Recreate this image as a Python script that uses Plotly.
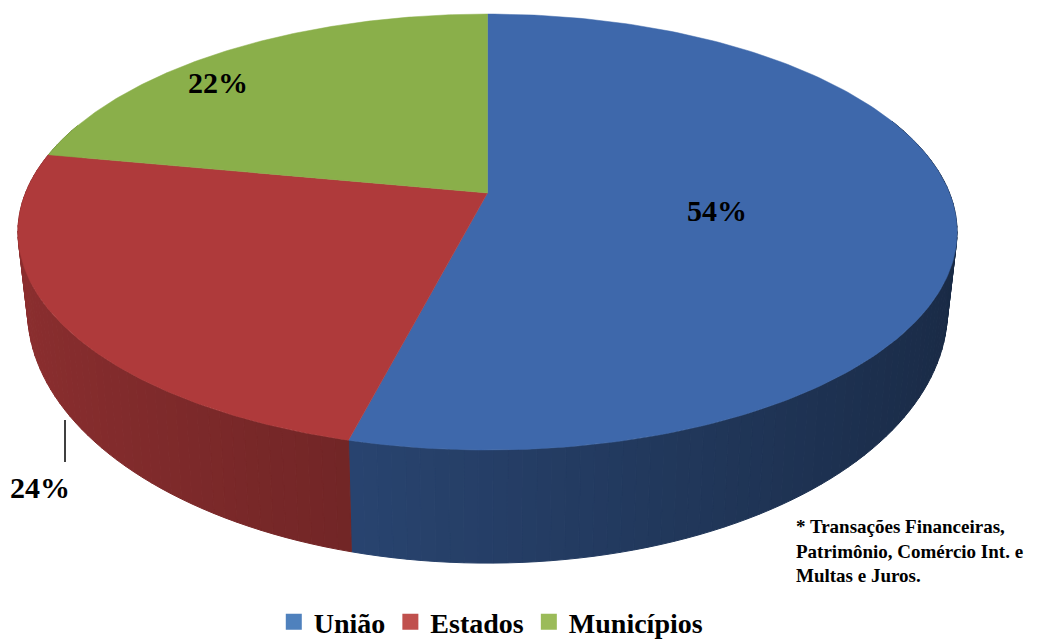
import numpy as np
import plotly.graph_objects as go

# ---- data ----
categories = ["União", "Estados", "Municípios"]
values = [54, 24, 22]
footnote_lines = ["* Transações Financeiras,", "Patrimônio, Comércio Int. e", "Multas e Juros."]

# ---- style ----
top_colors = [(62, 104, 171), (175, 58, 59), (138, 175, 74)]
legend_colors = ["#4f81bd", "#c0504d", "#9bbb59"]
label_pos = [(717, 210), (40, 487), (218, 82)]
FONT = "Liberation Serif"

W, H = 1045, 639
OFF = 8  # page body margin
# projection parameters (screen pixel space)
CX, CY, A, B, E = 487.5, 193.0, 462.0, 211.0, 0.179
CYB, AB, BB = 264.7, 452.6, 245.0


def proj(t, top=True, r=1.0):
    X = r * np.sin(t)
    Z = -r * np.cos(t)
    d = 1 - E * Z
    if top:
        return CX + A * X / d, CY + B * Z / d
    return CX + AB * X / d, CYB + BB * Z / d


def rgb(c, k=1.0):
    return "rgb(%d,%d,%d)" % tuple(int(round(v * k)) for v in c)


total = float(sum(values))
bounds = np.concatenate([[0], np.cumsum(values)]) / total * 2 * np.pi

fig = go.Figure()

# side walls (drawn first, back parts get covered by the top face)
step = np.radians(1.5)
for i, v in enumerate(values):
    a0, a1 = bounds[i], bounds[i + 1]
    n = max(2, int(np.ceil((a1 - a0) / step)))
    ts = np.linspace(a0, a1, n + 1)
    for j in range(n):
        t0, t1 = ts[j], ts[j + 1]
        if -np.cos((t0 + t1) / 2) < -0.35:
            continue
        xt0, yt0 = proj(t0)
        xt1, yt1 = proj(t1)
        xb0, yb0 = proj(t0, False)
        xb1, yb1 = proj(t1, False)
        Xm = np.sin((t0 + t1) / 2)
        k = 0.6 - 0.2 * Xm
        col = rgb(top_colors[i], k)
        fig.add_trace(go.Scatter(
            x=[xt0, xt1, xb1, xb0, xt0], y=[yt0, yt1, yb1, yb0, yt0],
            mode="lines", fill="toself", fillcolor=col,
            line=dict(color=col, width=1), hoverinfo="skip", showlegend=False))

# top faces
for i, v in enumerate(values):
    a0, a1 = bounds[i], bounds[i + 1]
    ts = np.linspace(a0, a1, 200)
    xs, ys = proj(ts)
    px = np.concatenate([[CX], xs, [CX]])
    py = np.concatenate([[CY], ys, [CY]])
    col = rgb(top_colors[i])
    fig.add_trace(go.Scatter(
        x=px, y=py, mode="lines", fill="toself", fillcolor=col,
        line=dict(color=col, width=0.5), hoverinfo="skip", showlegend=False))

# legend entries
for i, name in enumerate(categories):
    fig.add_trace(go.Scatter(
        x=[None], y=[None], mode="markers", name=name,
        marker=dict(symbol="square", size=16, color=legend_colors[i])))

# percentage labels
for i, v in enumerate(values):
    fig.add_annotation(x=label_pos[i][0], y=label_pos[i][1], text="%d%%" % round(v / total * 100),
                       showarrow=False, xref="x", yref="y",
                       font=dict(family=FONT, size=30, color="black", weight="bold"))

# leader line for the outside label
fig.add_shape(type="line", x0=65, x1=65, y0=420, y1=462, xref="x", yref="y",
              line=dict(color="black", width=1.5))

fig.add_annotation(x=794, y=514, xref="x", yref="y", xanchor="left", yanchor="top",
                   align="left", showarrow=False, text="<br>".join(footnote_lines),
                   font=dict(family=FONT, size=19, color="black", weight="bold"))

fig.update_layout(
    width=W, height=H, margin=dict(l=0, r=0, t=0, b=0),
    paper_bgcolor="white", plot_bgcolor="white",
    xaxis=dict(range=[OFF, W + OFF], visible=False, fixedrange=True),
    yaxis=dict(range=[H + OFF, OFF], visible=False, fixedrange=True),
    showlegend=True,
    legend=dict(orientation="h", x=0.462, y=1 - (622 - OFF) / H, xanchor="center", yanchor="middle",
                font=dict(family=FONT, size=28, color="black", weight="bold"),
                bgcolor="rgba(0,0,0,0)", itemclick=False, itemdoubleclick=False),
)

fig.write_html("out.html")
